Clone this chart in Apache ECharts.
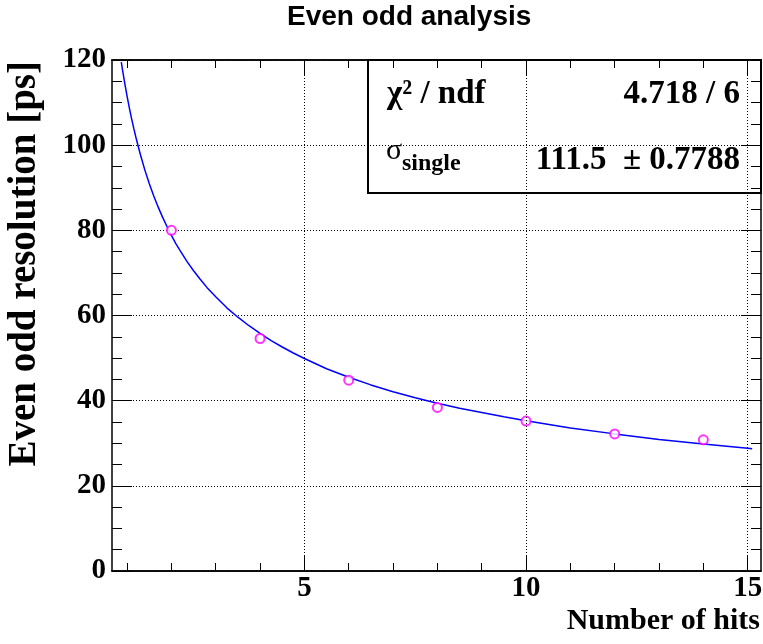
<!DOCTYPE html>
<html>
<head>
<meta charset="utf-8">
<script src="https://cdn.jsdelivr.net/npm/echarts@6/dist/echarts.min.js"></script>
<style>
  html, body { margin: 0; padding: 0; background: #fff; }
  #main { width: 763px; height: 644px; }
</style>
</head>
<body>
<div id="main"></div>
<script>
// measured points (number of hits vs even/odd resolution)
var nHits = [2, 4, 6, 8, 10, 12, 14];
var resolution = [80.0, 54.6, 44.8, 38.4, 35.2, 32.2, 30.8];

// fit curve
var fitX = [0.87, 0.9, 0.95, 1, 1.05, 1.1, 1.15, 1.2, 1.3, 1.4, 1.5, 1.6, 1.7, 1.8, 1.9, 2, 2.1, 2.2,
    2.35, 2.5, 2.65, 2.8, 3, 3.25, 3.5, 3.75, 4, 4.25, 4.5, 4.75, 5, 5.5, 6, 6.5, 7, 7.5, 8, 8.5,
    9, 9.5, 10, 11, 12, 13, 14, 15, 15.1];
var fitY = [119.5, 117.5, 114.4, 111.5, 108.8, 106.3, 104.0, 101.8, 97.8, 94.2, 91.0, 88.1, 85.5, 83.1, 80.9, 78.8, 76.9, 75.2,
    72.7, 70.5, 68.5, 66.6, 64.4, 61.8, 59.6, 57.6, 55.8, 54.1, 52.6, 51.2, 49.9, 47.5, 45.5, 43.7, 42.1, 40.7, 39.4, 38.2,
    37.2, 36.2, 35.3, 33.6, 32.2, 30.9, 29.8, 28.8, 28.7];

// axes
var xRange = [0.66, 15.3];
var xMajor = [5, 10, 15];
var xMinor = [1, 2, 3, 4, 5, 6, 7, 8, 9, 10, 11, 12, 13, 14, 15];
var yRange = [0, 120];

// fit box
var statNames = ['χ² / ndf'];
var statValues = ['4.718 / 6', '111.5  ± 0.7788'];

var serif = 'Liberation Serif';
var black = '#000';

function make_x_axis(pos, ticks, len, labels) {
    return {
        type: 'value',
        position: pos,
        min: xRange[0],
        max: xRange[1],
        axisLine: { show: true, onZero: false, lineStyle: { color: black, width: 1.5 } },
        axisTick: { show: true, inside: true, length: len, customValues: ticks,
            lineStyle: { color: black, width: 1 } },
        axisLabel: labels ? {
            show: true, customValues: xMajor, margin: 3,
            color: black, fontFamily: serif, fontWeight: 'bold', fontSize: 29
        } : { show: false },
        splitLine: { show: false }
    };
}

function make_y_axis(pos, labels) {
    return {
        type: 'value',
        position: pos,
        min: yRange[0],
        max: yRange[1],
        interval: 20,
        axisLine: { show: true, onZero: false, lineStyle: { color: black, width: 1.5 } },
        axisTick: { show: true, inside: true, length: 20, lineStyle: { color: black, width: 1 } },
        minorTick: { show: true, splitNumber: 4, length: 10, lineStyle: { color: black, width: 1 } },
        axisLabel: labels ? {
            show: true, margin: 6, color: black,
            fontFamily: serif, fontWeight: 'bold', fontSize: 29
        } : { show: false },
        splitLine: labels ? { show: true, lineStyle: { color: black, width: 1, type: [1, 2] } } : { show: false }
    };
}

var chartDom = document.getElementById('main');
var myChart = echarts.init(chartDom);

var fitData = fitX.map(function (x, i) { return [x, fitY[i]]; });
var pointData = nHits.map(function (x, i) { return [x, resolution[i]]; });

var option = {
    animation: false,
    backgroundColor: '#fff',
    title: {
        text: 'Even odd analysis',
        left: 287,
        top: 3,
        padding: 0,
        textStyle: { fontFamily: 'Liberation Sans', fontWeight: 'bold', fontSize: 28, color: black }
    },
    grid: { left: 112, right: 2, top: 60, bottom: 73, containLabel: false, outerBoundsMode: 'none' },
    xAxis: [
        make_x_axis('bottom', xMinor, 8, true),
        make_x_axis('bottom', xMajor, 15, false),
        make_x_axis('top', xMinor, 8, false),
        make_x_axis('top', xMajor, 15, false)
    ],
    yAxis: [
        make_y_axis('left', true),
        make_y_axis('right', false)
    ],
    series: [{
        name: 'fit',
        type: 'line',
        data: fitData,
        smooth: false,
        showSymbol: false,
        symbol: 'none',
        lineStyle: { color: '#0000ff', width: 1.5 },
        z: 3,
        markLine: {
            silent: true,
            symbol: 'none',
            label: { show: false },
            lineStyle: { color: black, width: 1, type: [1, 2] },
            data: xMajor.map(function (v) { return { xAxis: v }; })
        }
    }, {
        name: 'points',
        type: 'scatter',
        data: pointData,
        symbol: 'emptyCircle',
        symbolSize: 9,
        itemStyle: { color: '#ff00ff', borderColor: '#ff00ff', borderWidth: 1.2 },
        z: 4
    }],
    graphic: [
        // axis titles
        {
            type: 'text', right: 3, top: 606,
            style: { text: 'Number of hits', font: 'bold 30px "Liberation Serif"', fill: black }
        },
        {
            type: 'text', x: 25, y: 61, rotation: Math.PI / 2,
            style: { text: 'Even odd resolution [ps]', font: 'bold 39px "Liberation Serif"', fill: black,
                textAlign: 'right', textVerticalAlign: 'middle' }
        },
        // fit result box
        {
            type: 'rect', shape: { x: 368, y: 60, width: 393, height: 133 },
            style: { fill: 'none', stroke: black, lineWidth: 2 }, z: 10
        },
        {
            type: 'text', x: 387, y: 94, z: 10,
            style: { text: statNames[0], font: 'bold 33px "Liberation Serif"', fill: black,
                textAlign: 'left', textVerticalAlign: 'middle' }
        },
        {
            type: 'text', x: 740, y: 94, z: 10,
            style: { text: statValues[0], font: 'bold 33px "Liberation Serif"', fill: black,
                textAlign: 'right', textVerticalAlign: 'middle' }
        },
        {
            type: 'text', x: 386, y: 151, z: 10,
            style: { text: 'σ', font: '30px "Liberation Serif"', fill: black,
                textAlign: 'left', textVerticalAlign: 'middle' }
        },
        {
            type: 'text', x: 402, y: 164, z: 10,
            style: { text: 'single', font: 'bold 24px "Liberation Serif"', fill: black,
                textAlign: 'left', textVerticalAlign: 'middle' }
        },
        {
            type: 'text', x: 740, y: 160, z: 10,
            style: { text: statValues[1], font: 'bold 33px "Liberation Serif"', fill: black,
                textAlign: 'right', textVerticalAlign: 'middle' }
        }
    ]
};

option && myChart.setOption(option);
</script>
</body>
</html>
